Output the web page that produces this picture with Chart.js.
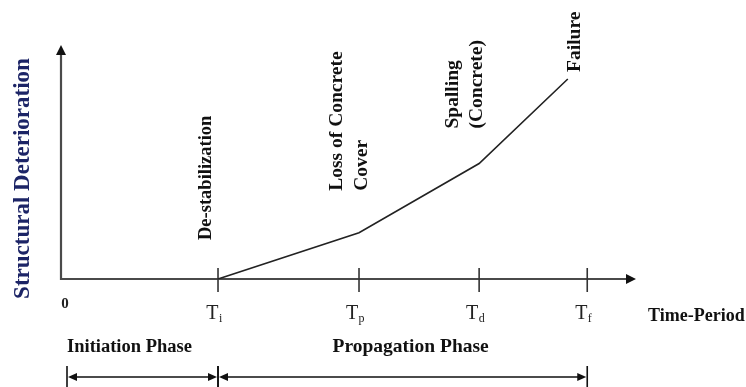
<!DOCTYPE html>
<html>
<head>
<meta charset="utf-8">
<script src="https://cdn.jsdelivr.net/npm/chart.js@4.4.1/dist/chart.umd.min.js"></script>
<style>
  html, body { margin: 0; padding: 0; background: #ffffff; }
  #wrap { width: 746px; height: 387px; position: relative; }
</style>
</head>
<body>
<div id="wrap"><canvas id="c" width="746" height="387"></canvas></div>
<script>
// ---- data ----
const tickNames = ['T', 'T', 'T', 'T'];
const tickSubs = ['i', 'p', 'd', 'f'];
const tickValues = [2.745, 5.21, 7.31, 9.20];
const curveX = [2.745, 5.21, 7.31, 8.86];
const curveY = [0, 2.0, 5.0, 8.66];
const eventLabels = [
  ['De-stabilization'],
  ['Loss of Concrete', 'Cover'],
  ['Spalling', '(Concrete)'],
  ['Failure']
];
const phaseLabels = ['Initiation Phase', 'Propagation Phase'];
const phaseStart = [0, 2.745];
const phaseEnd = [2.745, 9.20];
const originLabel = '0';
const xTitle = 'Time-Period';
const yTitle = 'Structural Deterioration';

const SERIF = '"Liberation Serif", "Times New Roman", serif';

function arrowHead(ctx, tipX, tipY, dir, len, half) {
  ctx.beginPath();
  if (dir === 'up') {
    ctx.moveTo(tipX, tipY);
    ctx.lineTo(tipX - half, tipY + len);
    ctx.lineTo(tipX + half, tipY + len);
  } else if (dir === 'right') {
    ctx.moveTo(tipX, tipY);
    ctx.lineTo(tipX - len, tipY - half);
    ctx.lineTo(tipX - len, tipY + half);
  } else {
    ctx.moveTo(tipX, tipY);
    ctx.lineTo(tipX + len, tipY - half);
    ctx.lineTo(tipX + len, tipY + half);
  }
  ctx.closePath();
  ctx.fill();
}

const diagramPlugin = {
  id: 'diagram',
  beforeDatasetsDraw(chart) {
    const ctx = chart.ctx;
    const xs = chart.scales.x, ys = chart.scales.y;
    const x0 = xs.getPixelForValue(xs.min), x1 = xs.getPixelForValue(xs.max);
    const y0 = ys.getPixelForValue(ys.min), y1 = ys.getPixelForValue(ys.max);
    ctx.save();
    // axes
    ctx.strokeStyle = '#4a4a4a';
    ctx.lineWidth = 2.2;
    ctx.beginPath();
    ctx.moveTo(x0, y1 + 6); ctx.lineTo(x0, y0);
    ctx.lineTo(x1 - 6, y0);
    ctx.stroke();
    ctx.fillStyle = '#111';
    arrowHead(ctx, x0, y1 - 3, 'up', 10, 5);
    arrowHead(ctx, x1 + 3, y0, 'right', 10, 5);
    // ticks
    ctx.strokeStyle = '#333';
    ctx.lineWidth = 1.6;
    tickValues.forEach(v => {
      const px = xs.getPixelForValue(v);
      ctx.beginPath(); ctx.moveTo(px, y0 - 11); ctx.lineTo(px, y0 + 13); ctx.stroke();
    });
    // tick labels T with subscripts
    ctx.fillStyle = '#222';
    ctx.textBaseline = 'alphabetic';
    tickValues.forEach((v, i) => {
      const px = xs.getPixelForValue(v) - 4;
      ctx.font = '20px ' + SERIF;
      const wT = ctx.measureText(tickNames[i]).width;
      ctx.font = '12px ' + SERIF;
      const wS = ctx.measureText(tickSubs[i]).width;
      const start = px - (wT + wS) / 2;
      ctx.font = '20px ' + SERIF;
      ctx.textAlign = 'left';
      ctx.fillText(tickNames[i], start, y0 + 40);
      ctx.font = '12px ' + SERIF;
      ctx.fillText(tickSubs[i], start + wT + 0.5, y0 + 43);
    });
    // origin label
    ctx.font = 'bold 15px ' + SERIF;
    ctx.textAlign = 'center';
    ctx.textBaseline = 'middle';
    ctx.fillStyle = '#222';
    ctx.fillText(originLabel, x0 + 4, y0 + 25);
    // x title
    ctx.font = 'bold 18px ' + SERIF;
    ctx.textAlign = 'left';
    ctx.fillStyle = '#111';
    ctx.fillText(xTitle, x1 + 15, y0 + 37);
    // y title
    ctx.save();
    ctx.translate(23, (y0 + y1) / 2 + 15);
    ctx.rotate(-Math.PI / 2);
    ctx.font = 'bold 23px ' + SERIF;
    ctx.textAlign = 'center';
    ctx.textBaseline = 'middle';
    ctx.fillStyle = '#1c2466';
    ctx.fillText(yTitle, 0, 0);
    ctx.restore();
    // event labels (rotated)
    const offs = [
      { dx: [-12], dy: -39, size: 18.5 },
      { dx: [-22, 3], dy: -42, size: 19.5 },
      { dx: [-26, -2], dy: -35, size: 19.5 },
      { dx: [7], dy: -7, size: 19.5 }
    ];
    ctx.fillStyle = '#111';
    eventLabels.forEach((lines, i) => {
      const px = xs.getPixelForValue(curveX[i]);
      const py = ys.getPixelForValue(curveY[i]);
      ctx.font = 'bold ' + offs[i].size + 'px ' + SERIF;
      lines.forEach((t, j) => {
        ctx.save();
        ctx.translate(px + offs[i].dx[j], py + offs[i].dy);
        ctx.rotate(-Math.PI / 2);
        ctx.textAlign = 'left';
        ctx.textBaseline = 'middle';
        ctx.fillText(t, 0, 0);
        ctx.restore();
      });
    });
    // phases
    const barTop = y0 + 87, barBot = y0 + 108, arrowY = y0 + 98;
    phaseLabels.forEach((lab, i) => {
      let a = xs.getPixelForValue(phaseStart[i]);
      if (phaseStart[i] === xs.min) a += 6;
      const b = xs.getPixelForValue(phaseEnd[i]);
      ctx.fillStyle = '#111';
      ctx.textBaseline = 'middle';
      if (i === 0) {
        ctx.font = 'bold 18.5px ' + SERIF;
        ctx.textAlign = 'left';
        ctx.fillText(lab, a, y0 + 68);
      } else {
        ctx.font = 'bold 19.5px ' + SERIF;
        ctx.textAlign = 'center';
        ctx.fillText(lab, (a + b) / 2 + 8, y0 + 68);
      }
      ctx.strokeStyle = '#111';
      ctx.lineWidth = 1.6;
      ctx.beginPath();
      ctx.moveTo(a + 6, arrowY); ctx.lineTo(b - 6, arrowY);
      ctx.moveTo(a, barTop); ctx.lineTo(a, barBot);
      ctx.moveTo(b, barTop); ctx.lineTo(b, barBot);
      ctx.stroke();
      arrowHead(ctx, a + 1, arrowY, 'left', 9, 4);
      arrowHead(ctx, b - 1, arrowY, 'right', 9, 4);
    });
    ctx.restore();
  }
};

new Chart(document.getElementById('c'), {
  type: 'scatter',
  data: {
    datasets: [{
      data: curveX.map((x, i) => ({ x: x, y: curveY[i] })),
      showLine: true,
      borderColor: '#222',
      borderWidth: 1.6,
      pointRadius: 0,
      tension: 0,
      fill: false
    }]
  },
  options: {
    responsive: false,
    animation: false,
    events: [],
    layout: { padding: { left: 61, right: 113, top: 48, bottom: 108 } },
    plugins: { legend: { display: false }, tooltip: { enabled: false } },
    scales: {
      x: { type: 'linear', min: 0, max: 10, display: false },
      y: { type: 'linear', min: 0, max: 10, display: false }
    }
  },
  plugins: [diagramPlugin]
});
</script>
</body>
</html>
